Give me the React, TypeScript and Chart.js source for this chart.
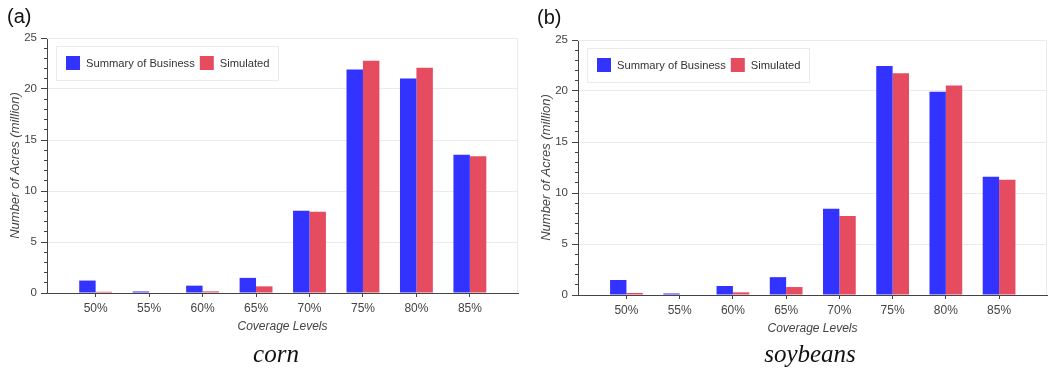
import React, { useEffect, useRef } from 'react';
import { Chart, registerables } from 'chart.js';

Chart.register(...registerables);

// Coverage levels on the x axis and their tick labels
const coverageLevels = [50, 55, 60, 65, 70, 75, 80, 85];
const coverageLabels = ['50%', '55%', '60%', '65%', '70%', '75%', '80%', '85%'];

// Acres (million) per coverage level
const cornSummary = [1.22, 0.15, 0.72, 1.48, 8.07, 21.9, 21.04, 13.56];
const cornSimulated = [0.12, 0, 0.16, 0.65, 7.97, 22.77, 22.09, 13.4];
const soySummary = [1.47, 0.15, 0.88, 1.75, 8.45, 22.45, 19.93, 11.6];
const soySimulated = [0.2, 0, 0.26, 0.78, 7.75, 21.73, 20.55, 11.3];

const seriesNames = ['Summary of Business', 'Simulated'];
const seriesColors = ['#3333ff', '#e64c5f'];

const SANS = '"Liberation Sans", Arial, Helvetica, sans-serif';
const SERIF = '"Liberation Serif", "Times New Roman", serif';
const AXIS_COLOR = '#444444';
const GRID_COLOR = '#ebebeb';

// Light frame along the top and right edges of the plot area
const plotFrame = {
  id: 'plotFrame',
  beforeDatasetsDraw(chart: any) {
    const { ctx, chartArea: a } = chart;
    ctx.save();
    ctx.strokeStyle = GRID_COLOR;
    ctx.lineWidth = 1;
    ctx.beginPath();
    ctx.moveTo(a.left, Math.round(a.top) + 0.5);
    ctx.lineTo(Math.round(a.right) - 0.5, Math.round(a.top) + 0.5);
    ctx.lineTo(Math.round(a.right) - 0.5, a.bottom);
    ctx.stroke();
    ctx.restore();
  },
};

// Horizontal legend drawn inside the plot area, top-left
const insetLegend = {
  id: 'insetLegend',
  afterDatasetsDraw(chart: any) {
    const { ctx, chartArea } = chart;
    ctx.save();
    ctx.font = `11.2px ${SANS}`;
    const box = 14;
    const gapText = 6;
    const gapItem = 5;
    const padL = 10;
    const padR = 8;
    const items = chart.data.datasets.map((ds: any) => ({ label: ds.label, color: ds.backgroundColor }));
    let w = padL + padR;
    items.forEach((it: any, i: number) => {
      w += box + gapText + ctx.measureText(it.label).width + (i < items.length - 1 ? gapItem : 0);
    });
    const x0 = Math.round(chartArea.left + 9);
    const y0 = Math.round(chartArea.top + 8);
    const h = 34;
    ctx.fillStyle = '#ffffff';
    ctx.fillRect(x0, y0, w, h);
    ctx.strokeStyle = GRID_COLOR;
    ctx.lineWidth = 1;
    ctx.strokeRect(x0 + 0.5, y0 + 0.5, Math.round(w), h);
    let x = x0 + padL;
    const cy = y0 + h / 2;
    items.forEach((it: any) => {
      ctx.fillStyle = it.color;
      ctx.fillRect(x, cy - box / 2, box, box);
      x += box + gapText;
      ctx.fillStyle = '#333333';
      ctx.textBaseline = 'middle';
      ctx.textAlign = 'left';
      ctx.fillText(it.label, x, cy + 0.5);
      x += ctx.measureText(it.label).width + gapItem;
    });
    ctx.restore();
  },
};

function makeConfig(summary: number[], simulated: number[], pad: { top: number; right: number; bottom: number }) {
  const series = [summary, simulated];
  return {
    type: 'bar' as const,
    data: {
      datasets: series.map((vals, s) => ({
        label: seriesNames[s],
        data: coverageLevels.map((x, i) => ({ x, y: vals[i] })),
        backgroundColor: seriesColors[s],
        borderWidth: 0,
        categoryPercentage: 0.615,
        barPercentage: 1,
      })),
    },
    options: {
      responsive: false,
      animation: false as const,
      devicePixelRatio: 1,
      events: [],
      layout: { padding: { left: 0, right: pad.right, top: pad.top, bottom: pad.bottom } },
      plugins: {
        legend: { display: false },
        tooltip: { enabled: false },
        title: { display: false },
      },
      scales: {
        x: {
          type: 'linear' as const,
          min: 45.45,
          max: 89.5,
          bounds: 'data' as const,
          offset: false,
          afterBuildTicks: (scale: any) => {
            scale.ticks = coverageLevels.map((v) => ({ value: v }));
          },
          afterFit: (scale: any) => {
            scale.height = 45;
          },
          ticks: {
            autoSkip: false,
            maxRotation: 0,
            padding: 4,
            color: AXIS_COLOR,
            font: { family: SANS, size: 12 },
            callback: (_v: any, i: number) => coverageLabels[i],
          },
          grid: {
            drawOnChartArea: false,
            offset: false,
            drawTicks: true,
            tickLength: 4,
            tickColor: AXIS_COLOR,
          },
          border: { display: true, color: AXIS_COLOR, width: 1 },
          title: {
            display: true,
            text: 'Coverage Levels',
            color: AXIS_COLOR,
            font: { family: SANS, size: 12, style: 'italic' as const },
            padding: { top: 0, bottom: 4.5 },
          },
        },
        y: {
          min: 0,
          max: 25,
          afterFit: (scale: any) => {
            scale.width = 47;
          },
          ticks: {
            stepSize: 1,
            autoSkip: false,
            padding: 4,
            color: AXIS_COLOR,
            font: { family: SANS, size: 11.5 },
            callback: (v: any) => (v % 5 === 0 ? String(v) : ''),
          },
          grid: {
            color: (c: any) => (c.tick && c.tick.value % 5 === 0 ? GRID_COLOR : 'rgba(0,0,0,0)'),
            tickLength: 6,
            tickColor: AXIS_COLOR,
            // long ticks on the labelled values, short ones between them
            tickBorderDash: [6, 94],
            tickBorderDashOffset: (c: any) => (c.tick && c.tick.value % 5 === 0 ? 0 : 97),
          },
          border: { display: true, color: AXIS_COLOR, width: 1 },
          title: {
            display: true,
            text: 'Number of Acres (million)',
            color: AXIS_COLOR,
            font: { family: SANS, size: 13, style: 'italic' as const },
            padding: { top: 8, bottom: 0 },
          },
        },
      },
    },
    plugins: [plotFrame, insetLegend],
  };
}

function BarPanel(props: {
  summary: number[];
  simulated: number[];
  left: number;
  width: number;
  pad: { top: number; right: number; bottom: number };
}) {
  const ref = useRef<HTMLCanvasElement | null>(null);
  useEffect(() => {
    if (!ref.current) return;
    const chart = new Chart(ref.current, makeConfig(props.summary, props.simulated, props.pad) as any);
    return () => chart.destroy();
  }, []);
  return (
    <canvas
      ref={ref}
      width={props.width}
      height={374}
      style={{ position: 'absolute', left: props.left, top: 0, width: props.width, height: 374, display: 'block' }}
    />
  );
}

const panelLetter: React.CSSProperties = {
  position: 'absolute',
  fontFamily: SANS,
  fontSize: 20,
  lineHeight: '20px',
  color: '#111',
  whiteSpace: 'nowrap',
};

const caption: React.CSSProperties = {
  position: 'absolute',
  width: 200,
  textAlign: 'center',
  fontFamily: SERIF,
  fontStyle: 'italic',
  fontSize: 25,
  lineHeight: '25px',
  color: '#111',
  whiteSpace: 'nowrap',
};

export default function App() {
  return (
    <div style={{ position: 'fixed', left: 0, top: 0, width: 1049, height: 374, background: '#ffffff', overflow: 'hidden' }}>
      <BarPanel summary={cornSummary} simulated={cornSimulated} left={0} width={524} pad={{ top: 38, right: 6, bottom: 36 }} />
      <BarPanel summary={soySummary} simulated={soySimulated} left={531} width={518} pad={{ top: 40, right: 2, bottom: 34 }} />
      <div style={{ ...panelLetter, left: 7, top: 6 }}>(a)</div>
      <div style={{ ...panelLetter, left: 537, top: 7 }}>(b)</div>
      <div style={{ ...caption, left: 176, top: 341 }}>corn</div>
      <div style={{ ...caption, left: 710, top: 341 }}>soybeans</div>
    </div>
  );
}
